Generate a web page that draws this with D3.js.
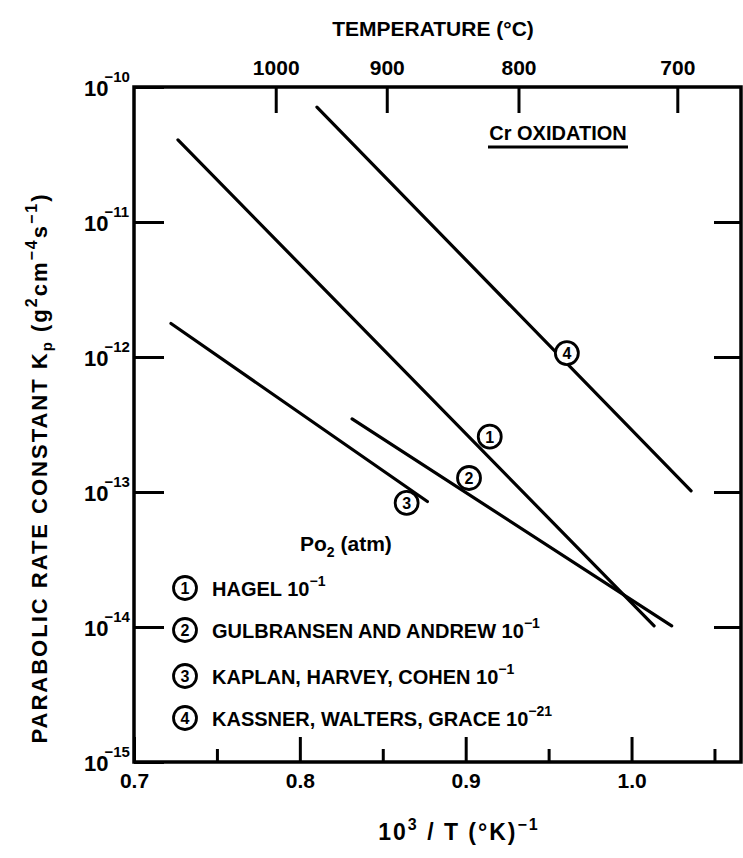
<!DOCTYPE html>
<html>
<head>
<meta charset="utf-8">
<script src="https://cdn.jsdelivr.net/npm/d3@7"></script>
<style>
  body { margin: 0; background: #fff; }
  text { font-family: "Liberation Sans", Arial, sans-serif; font-weight: bold; fill: #000; }
</style>
</head>
<body>
<div class="chart"></div>
<script>
var svgWidth = 743;
var svgHeight = 858;

// curves: 10^3/T at each end and Kp at each end
var curveIds = [1, 2, 3, 4];
var startInvT = [0.7265, 0.8315, 0.7223, 0.8103];
var endInvT = [1.0136, 1.0242, 0.8769, 1.0359];
var startKp = [4.06e-11, 3.48e-13, 1.77e-12, 7.1e-11];
var endKp = [1.02e-14, 1.02e-14, 8.5e-14, 1.02e-13];

// where the circled numbers sit next to each curve
var markInvT = [0.9145, 0.902, 0.8644, 0.961];
var markKp = [2.57e-13, 1.27e-13, 8.3e-14, 1.07e-12];

// legend
var legendNames = ["HAGEL", "GULBRANSEN AND ANDREW", "KAPLAN, HARVEY, COHEN", "KASSNER, WALTERS, GRACE"];
var legendExp = ["−1", "−1", "−1", "−21"];

// ticks
var invTMajor = [0.7, 0.8, 0.9, 1.0];
var invTMinor = [0.75, 0.85, 0.95, 1.05];
var tempTicks = [1000, 900, 800, 700];
var kpTicks = [1e-15, 1e-14, 1e-13, 1e-12, 1e-11, 1e-10];
var kpExp = ["−15", "−14", "−13", "−12", "−11", "−10"];

var svg = d3.select(".chart")
  .append("svg")
  .attr("width", svgWidth)
  .attr("height", svgHeight);

svg.append("rect").attr("width", svgWidth).attr("height", svgHeight).attr("fill", "#fff");

var x = d3.scaleLinear().domain([0.7, 1.066]).range([134, 741]);
var y = d3.scaleLog().domain([1e-15, 1e-10]).range([762, 87]);

var plotLeft = x.range()[0], plotRight = x.range()[1];
var plotTop = y.range()[1], plotBottom = y.range()[0];

// frame
svg.append("rect")
  .attr("x", plotLeft).attr("y", plotTop)
  .attr("width", plotRight - plotLeft).attr("height", plotBottom - plotTop)
  .attr("fill", "none").attr("stroke", "#000").attr("stroke-width", 3.5);

function styleAxis(g) {
  g.select(".domain").remove();
  g.selectAll(".tick line").attr("stroke", "#000").attr("stroke-width", 3);
}

// bottom axis, major + minor
svg.append("g")
  .attr("transform", `translate(0, ${plotBottom})`)
  .call(d3.axisBottom(x).tickValues(invTMajor).tickSize(-25).tickPadding(11).tickFormat(d3.format(".1f")))
  .call(styleAxis)
  .selectAll("text")
  .attr("font-size", 21).attr("font-family", null);

svg.append("g")
  .attr("transform", `translate(0, ${plotBottom})`)
  .call(d3.axisBottom(x).tickValues(invTMinor).tickSize(-13).tickFormat(""))
  .call(styleAxis);

// top axis in degrees C
var invOfTemp = t => 1000 / (t + 273.15);
svg.append("g")
  .attr("transform", `translate(0, ${plotTop})`)
  .call(d3.axisTop(x).tickValues(tempTicks.map(invOfTemp)).tickSize(-26).tickPadding(12)
    .tickFormat((d, i) => tempTicks[i]))
  .call(styleAxis)
  .selectAll("text")
  .attr("font-size", 21).attr("font-family", null);

// left axis
svg.append("g")
  .attr("transform", `translate(${plotLeft}, 0)`)
  .call(d3.axisLeft(y).tickValues(kpTicks).tickSize(-30).tickFormat(""))
  .call(styleAxis);

// right axis, inner decades only
svg.append("g")
  .attr("transform", `translate(${plotRight}, 0)`)
  .call(d3.axisRight(y).tickValues(kpTicks.slice(1, 5)).tickSize(-27).tickFormat(""))
  .call(styleAxis);

// y tick labels 10^n
var yLabels = svg.append("g").selectAll("text")
  .data(kpTicks)
  .enter()
  .append("text")
  .attr("x", 84)
  .attr("y", d => y(d) + 9)
  .attr("font-size", 22);
yLabels.append("tspan").text("10");
yLabels.append("tspan")
  .attr("dx", -4).attr("dy", -14)
  .attr("font-size", 15)
  .text((d, i) => kpExp[i]);

// axis titles
svg.append("text")
  .attr("x", 433).attr("y", 36)
  .attr("text-anchor", "middle")
  .attr("font-size", 21)
  .text("TEMPERATURE (°C)");

var xTitle = svg.append("text")
  .attr("x", 459).attr("y", 840)
  .attr("text-anchor", "middle")
  .attr("font-size", 23)
  .attr("letter-spacing", 2);
xTitle.append("tspan").text("10");
xTitle.append("tspan").attr("dy", -10).attr("font-size", 16).text("3");
xTitle.append("tspan").attr("dy", 10).text(" / T  (°K)");
xTitle.append("tspan").attr("dy", -10).attr("font-size", 16).text("−1");

var yTitle = svg.append("text")
  .attr("transform", "translate(47, 468) rotate(-90)")
  .attr("text-anchor", "middle")
  .attr("font-size", 22)
  .attr("letter-spacing", 2);
yTitle.append("tspan").text("PARABOLIC RATE CONSTANT K");
yTitle.append("tspan").attr("dy", 5).attr("font-size", 15).text("p");
yTitle.append("tspan").attr("dy", -5).text(" (g");
yTitle.append("tspan").attr("dy", -10).attr("font-size", 16).text("2");
yTitle.append("tspan").attr("dy", 10).text("cm");
yTitle.append("tspan").attr("dy", -10).attr("font-size", 16).text("−4");
yTitle.append("tspan").attr("dy", 10).text("s");
yTitle.append("tspan").attr("dy", -10).attr("font-size", 16).text("−1");
yTitle.append("tspan").attr("dy", 10).text(")");

// curves
var curveGroup = svg.append("g");
curveGroup.selectAll("line")
  .data(curveIds)
  .enter()
  .append("line")
  .attr("x1", (d, i) => x(startInvT[i]))
  .attr("y1", (d, i) => y(startKp[i]))
  .attr("x2", (d, i) => x(endInvT[i]))
  .attr("y2", (d, i) => y(endKp[i]))
  .attr("stroke", "#000")
  .attr("stroke-width", 3.2)
  .attr("stroke-linecap", "round");

function circled(g, cx, cy, label) {
  g.append("circle")
    .attr("cx", cx).attr("cy", cy).attr("r", 11.5)
    .attr("fill", "#fff").attr("stroke", "#000").attr("stroke-width", 2.8);
  g.append("text")
    .attr("x", cx).attr("y", cy + 6)
    .attr("text-anchor", "middle")
    .attr("font-size", 16)
    .text(label);
}

curveIds.forEach(function(id, i) {
  circled(curveGroup, x(markInvT[i]), y(markKp[i]), id);
});

// Cr OXIDATION
svg.append("text")
  .attr("x", 558).attr("y", 140)
  .attr("text-anchor", "middle")
  .attr("font-size", 20)
  .text("Cr  OXIDATION");
svg.append("line")
  .attr("x1", 488).attr("x2", 628)
  .attr("y1", 147).attr("y2", 147)
  .attr("stroke", "#000").attr("stroke-width", 3);

// legend
var po2 = svg.append("text")
  .attr("x", 300).attr("y", 551)
  .attr("font-size", 21);
po2.append("tspan").text("Po");
po2.append("tspan").attr("dy", 6).attr("font-size", 14).text("2");
po2.append("tspan").attr("dy", -6).text(" (atm)");

var legendRows = [588, 630, 676, 718];
var legend = svg.append("g");
curveIds.forEach(function(id, i) {
  circled(legend, 185, legendRows[i], id);
  var t = legend.append("text")
    .attr("x", 212).attr("y", legendRows[i] + 7.5)
    .attr("font-size", 20);
  t.append("tspan").text(legendNames[i] + "  10");
  t.append("tspan").attr("dy", -10).attr("font-size", 14).text(legendExp[i]);
});
</script>
</body>
</html>
